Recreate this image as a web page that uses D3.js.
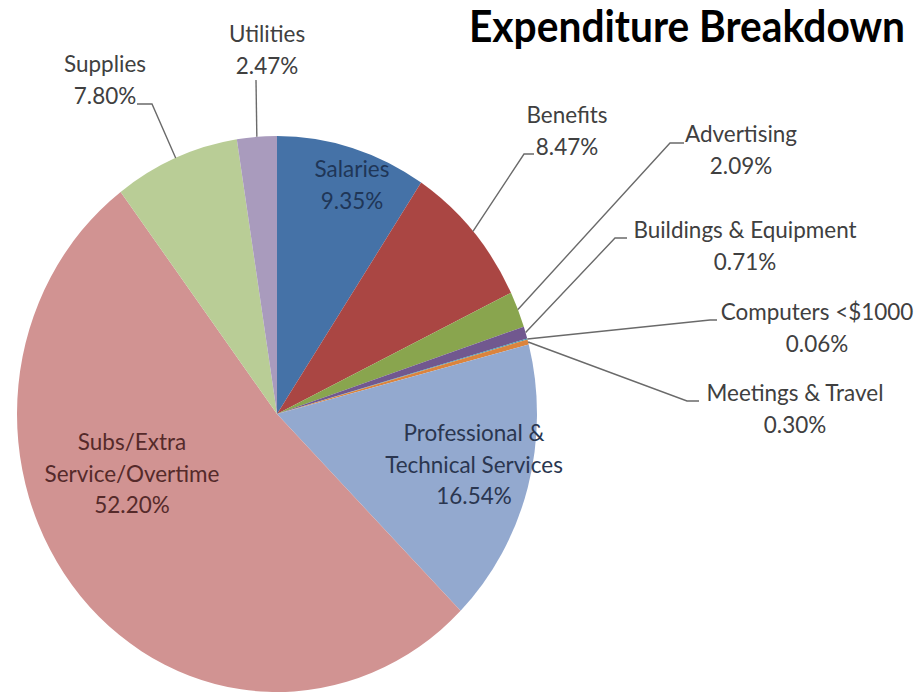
<!DOCTYPE html>
<html>
<head>
<meta charset="utf-8">
<script src="https://cdn.jsdelivr.net/npm/d3@7/dist/d3.min.js"></script>
<style>
  body { margin: 0; background: #fff; }
  text { font-family: Lato, "Open Sans", sans-serif; }
</style>
</head>
<body>
<svg id="chart" width="924" height="696"></svg>
<script>
// data
var categories = ["Salaries", "Benefits", "Advertising", "Buildings & Equipment",
  "Computers <$1000", "Meetings & Travel", "Professional & Technical Services",
  "Subs/Extra Service/Overtime", "Supplies", "Utilities"];
var values = [9.35, 8.47, 2.09, 0.71, 0.06, 0.30, 16.54, 52.20, 7.80, 2.47];
var labelLines = [["Salaries"], ["Benefits"], ["Advertising"], ["Buildings & Equipment"],
  ["Computers <$1000"], ["Meetings & Travel"], ["Professional &", "Technical Services"],
  ["Subs/Extra", "Service/Overtime"], ["Supplies"], ["Utilities"]];
var colors = ["#4572a7", "#aa4643", "#89a54e", "#71588f", "#4198af", "#db843d",
  "#93a9cf", "#d19392", "#b9cd96", "#a99bbd"];

// layout: where each label sits (centre x, first baseline) and its leader elbows
var labelPos = [
  {x: 352, y: 177, fill: "#1f3657"},
  {x: 567, y: 123},
  {x: 741, y: 142},
  {x: 745, y: 238},
  {x: 817, y: 320},
  {x: 795, y: 401},
  {x: 474, y: 441, fill: "#2a3650"},
  {x: 132, y: 450, fill: "#552a2a"},
  {x: 105, y: 72},
  {x: 267, y: 42}
];
var leaders = {
  "Benefits": [[524, 154], [534, 154]],
  "Advertising": [[670, 143], [684, 143]],
  "Buildings & Equipment": [[615, 238], [627, 238]],
  "Computers <$1000": [[710, 320], [717, 320]],
  "Meetings & Travel": [[687, 401], [699, 401]],
  "Supplies": [[152, 104], [137, 104]],
  "Utilities": [[256, 80]]
};

var cx = 277, cy = 414, rx = 260, ry = 278;
var stretch = ry / rx;   // the picture is a little taller than wide
var lineGap = 31.5;

var svg = d3.select("#chart");

var pie = d3.pie().sort(null).value(function(d){ return d; });
var arcs = pie(values);
var arc = d3.arc().innerRadius(0).outerRadius(rx);

var g = svg.append("g")
  .attr("transform", "translate(" + cx + "," + cy + ") scale(1," + stretch + ")");

g.selectAll("path").data(arcs).enter().append("path")
  .attr("d", arc)
  .attr("fill", function(d, i){ return colors[i]; });

// point on the (stretched) pie rim at the middle of a slice
function rim(a) {
  var m = (a.startAngle + a.endAngle) / 2;
  return [cx + rx * Math.sin(m), cy - ry * Math.cos(m)];
}

var line = d3.line();
arcs.forEach(function(a, i){
  var pts = leaders[categories[i]];
  if (!pts) return;
  svg.append("path")
    .attr("d", line([rim(a)].concat(pts)))
    .attr("fill", "none")
    .attr("stroke", "#6a6a6a")
    .attr("stroke-width", 1.4);
});

// fit the label font so "Service/Overtime" is as wide as in the picture
var probe = svg.append("text").attr("font-size", 20).text("Service/Overtime");
var fs = 20 * 175 / probe.node().getComputedTextLength();
probe.remove();

arcs.forEach(function(a, i){
  var p = labelPos[i];
  var lines = labelLines[i].concat([values[i].toFixed(2) + "%"]);
  lines.forEach(function(s, k){
    svg.append("text")
      .attr("class", "lbl")
      .attr("transform", "translate(" + p.x + "," + (p.y + k * lineGap) + ") scale(1," + stretch + ")")
      .attr("text-anchor", "middle")
      .attr("font-size", fs)
      .attr("fill", p.fill || "#404040")
      .text(s);
  });
});

var title = svg.append("text")
  .attr("transform", "translate(687,42) scale(1," + stretch + ")")
  .attr("text-anchor", "middle")
  .attr("font-weight", "bold")
  .attr("font-size", 40)
  .attr("fill", "#000")
  .text("Expenditure Breakdown");
var tw = title.node().getComputedTextLength();
title.attr("font-size", 40 * 436 / tw);
</script>
</body>
</html>
